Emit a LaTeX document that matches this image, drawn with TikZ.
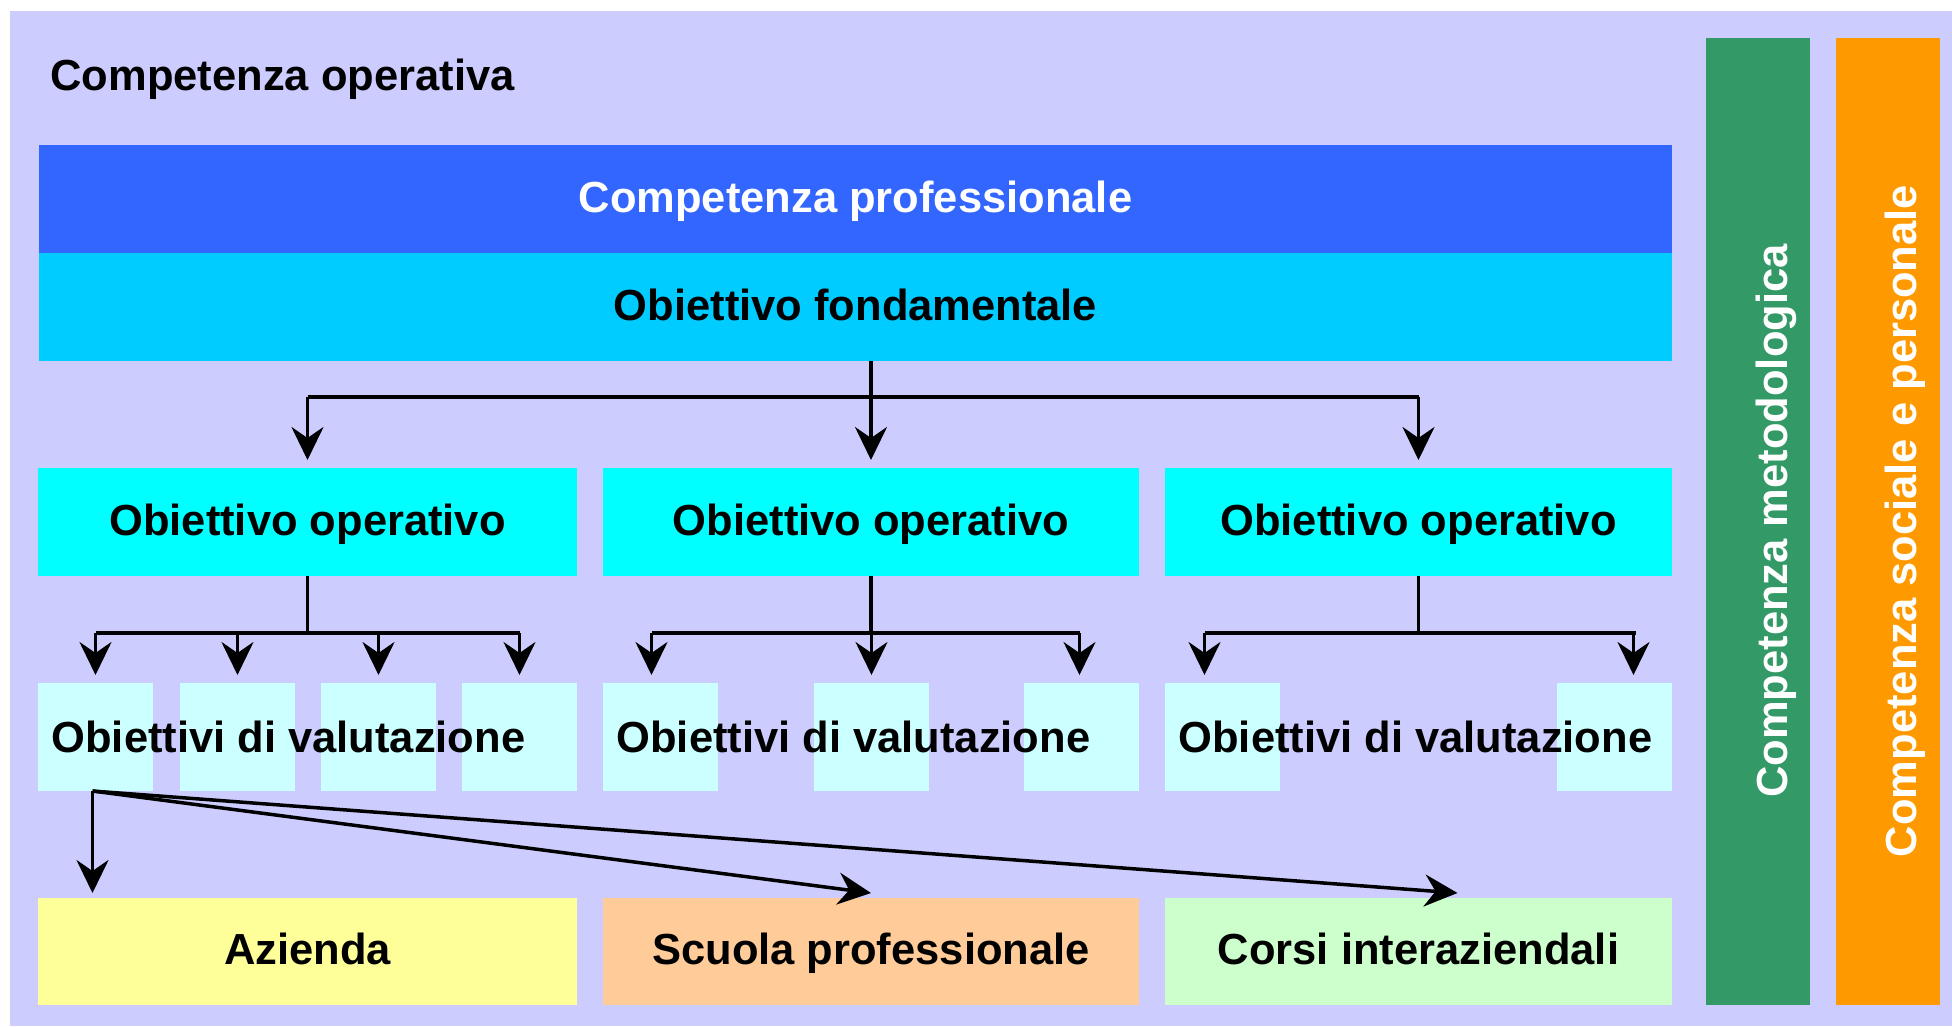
\documentclass[tikz,border=0pt]{standalone}
\usepackage{fontspec}
\setmainfont{Liberation Sans}
\usetikzlibrary{arrows.meta}

\definecolor{lavendel}{HTML}{CCCCFF}
\definecolor{blu}{HTML}{3366FF}
\definecolor{azzurro}{HTML}{00CCFF}
\definecolor{ciano}{HTML}{00FFFF}
\definecolor{celeste}{HTML}{CCFFFF}
\definecolor{giallo}{HTML}{FFFF99}
\definecolor{pesca}{HTML}{FFCC99}
\definecolor{menta}{HTML}{CCFFCC}
\definecolor{verde}{HTML}{339966}
\definecolor{arancio}{HTML}{FF9900}

\begin{document}
\begin{tikzpicture}[x=1pt,y=-1pt,
  box/.style={anchor=north west, inner sep=0pt, outer sep=0pt, minimum height=108pt,
    text height=31pt, text depth=5pt},
  lbl/.style={font=\fontsize{43.5}{50}\selectfont\bfseries},
  lin/.style={line width=3.5pt},
  arr/.style={line width=3.5pt, -{Stealth[length=33pt,width=32pt,inset=11pt]}}]
  \useasboundingbox (0,0) rectangle (1952,1026);
  \fill[lavendel] (10,11) rectangle (1952,1026);

  \node[lbl, anchor=base west] (tit) at (47,90) {Competenza operativa};

  \node[box, lbl, fill=blu, text=white, minimum width=1633pt] (prof) at (39,145) {Competenza professionale};
  \node[box, lbl, fill=azzurro, minimum width=1633pt] (fond) at (39,253) {Obiettivo fondamentale};

  \node[box, lbl, fill=ciano, minimum width=539pt] (op1) at (38,468) {Obiettivo operativo};
  \node[box, lbl, fill=ciano, minimum width=536pt] (op2) at (603,468) {Obiettivo operativo};
  \node[box, lbl, fill=ciano, minimum width=507pt] (op3) at (1165,468) {Obiettivo operativo};

  \foreach \n/\x in {1/38,2/180,3/321,4/462,5/603,6/814,7/1024,8/1165,9/1557} {
    \node[box, fill=celeste, minimum width=115pt] (va\n) at (\x,683) {};
  }
  \foreach \x in {48,613,1175} {
    \node[lbl, anchor=base west] (val\x) at (\x,752) {Obiettivi di valutazione};
  }

  \node[box, lbl, fill=giallo, minimum width=539pt, minimum height=107pt] (az) at (38,898) {Azienda};
  \node[box, lbl, fill=pesca, minimum width=536pt, minimum height=107pt] (sc) at (603,898) {Scuola professionale};
  \node[box, lbl, fill=menta, minimum width=507pt, minimum height=107pt] (co) at (1165,898) {Corsi interaziendali};

  \node[box, fill=verde, minimum width=104pt, minimum height=967pt] (met) at (1706,38) {};
  \node[box, fill=arancio, minimum width=104pt, minimum height=967pt] (soc) at (1836,38) {};
  \node[lbl, text=white, rotate=90] (mett) at (1776,521) {Competenza metodologica};
  \node[lbl, text=white, rotate=90] (soct) at (1905,521) {Competenza sociale e personale};

  % fondamentale -> operativi
  \coordinate (h1) at (0,397);
  \draw[arr, shorten >=8pt] (fond.south -| op2.north) -- (op2.north);
  \draw[lin] (op1.north |- h1) -- (op3.north |- h1);
  \draw[arr, shorten >=8pt] (op1.north |- h1) -- (op1.north);
  \draw[arr, shorten >=8pt] (op3.north |- h1) -- (op3.north);

  % operativi -> valutazione
  \coordinate (h2) at (0,633);
  \draw[lin] (op1.south) -- (op1.south |- h2);
  \draw[lin] (va1.north |- h2) -- (va4.north |- h2);
  \foreach \v in {va1,va2,va3,va4} {
    \draw[arr, shorten >=8pt] (\v.north |- h2) -- (\v.north);
  }
  \draw[lin] (op2.south) -- (op2.south |- h2);
  \draw[lin] ([xshift=-9pt]va5.north |- h2) -- ([xshift=-2pt]va7.north |- h2);
  \draw[arr, shorten >=8pt] ([xshift=-9pt]va5.north |- h2) -- ([xshift=-9pt]va5.north);
  \draw[arr, shorten >=8pt] (va6.north |- h2) -- (va6.north);
  \draw[arr, shorten >=8pt] ([xshift=-2pt]va7.north |- h2) -- ([xshift=-2pt]va7.north);
  \draw[lin] (op3.south) -- (op3.south |- h2);
  \draw[lin] ([xshift=-18pt]va8.north |- h2) -- ([xshift=21pt]va9.north |- h2);
  \draw[arr, shorten >=8pt] ([xshift=-18pt]va8.north |- h2) -- ([xshift=-18pt]va8.north);
  \draw[arr, shorten >=8pt] ([xshift=19pt]va9.north |- h2) -- ([xshift=19pt]va9.north);

  % valutazione -> luoghi di formazione
  \draw[arr, shorten >=5pt] ([xshift=-3pt]va1.south) -- ([xshift=-3pt]va1.south |- az.north);
  \draw[arr] ([xshift=-3pt]va1.south) -- ([yshift=5pt]sc.north);
  \draw[arr] ([xshift=-3pt]va1.south) -- ([xshift=39pt,yshift=5pt]co.north);
\end{tikzpicture}
\end{document}
